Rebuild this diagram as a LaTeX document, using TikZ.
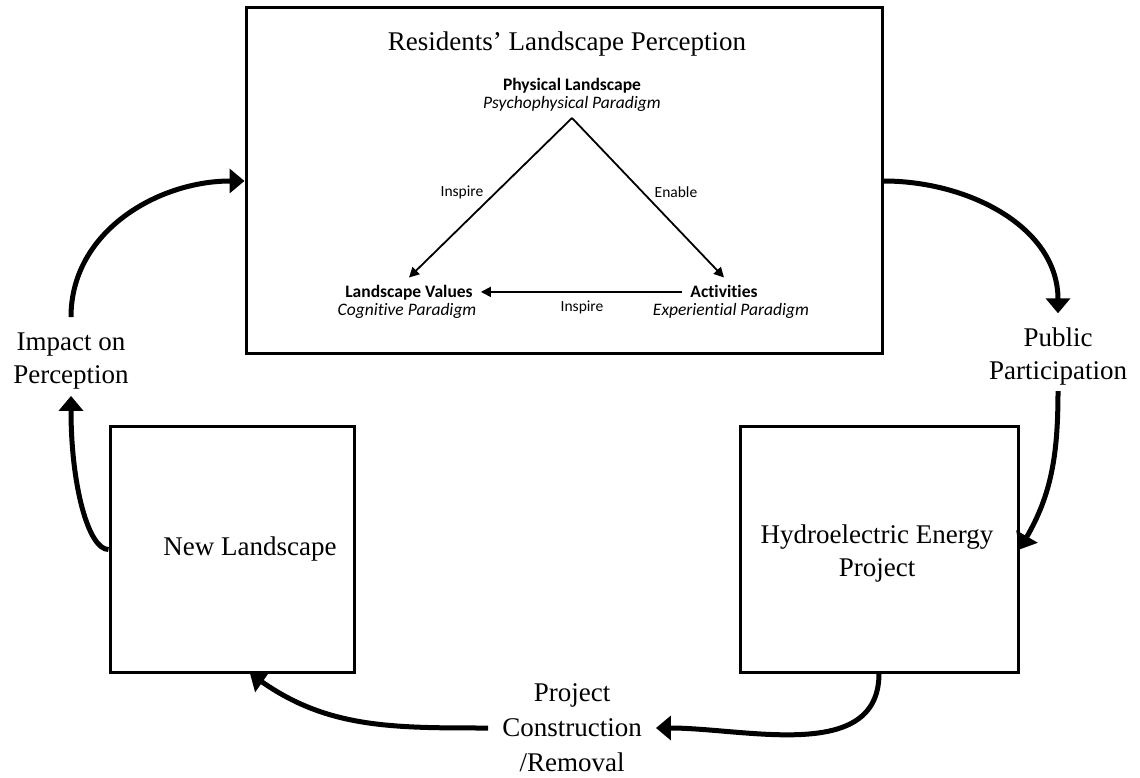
\documentclass[tikz,border=0pt]{standalone}
\usepackage{fontspec}
\setmainfont{Liberation Serif}
\newfontfamily\calibri[Ligatures=NoCommon]{Carlito}
\usetikzlibrary{arrows.meta}

\tikzset{
	bigbox/.style={draw,line width=3pt,inner sep=0,outer sep=1.5pt},
	bigtext/.style={font=\fontsize{27}{33}\selectfont,align=center,inner sep=6pt},
	smalltext/.style={font=\calibri\fontsize{17.5}{20}\selectfont,inner sep=8pt},
	labeltext/.style={font=\calibri\fontsize{15.5}{18}\selectfont,inner sep=0},
	bigarrow/.style={line width=5pt,-{Triangle[length=15pt,width=24pt]}},
	smallarrow/.style={line width=1.8pt,-{Triangle[length=10pt,width=10pt]}}
}

\begin{document}
\begin{tikzpicture}[x=1pt,y=1pt]
	\useasboundingbox (0,0) rectangle (1140,777);
	% boxes
	\node[bigbox,minimum width=636pt,minimum height=346pt] (perc) at (564,596) {};
	\node[bigbox,minimum width=244pt,minimum height=245pt] (newl) at (232,227.5) {};
	\node[bigbox,minimum width=278pt,minimum height=245pt] (hydro) at (879,227.5) {};
	\node[bigtext,anchor=base] (title) at (567,726) {Residents' Landscape Perception};
	\node[bigtext] (newltext) at (250,227.5) {New Landscape};
	\node[bigtext] (hydrotext) at (877,223) {Hydroelectric Energy\\Project};
	% triangle inside
	\coordinate (apex) at (572,659);
	\node[smalltext,anchor=base] (phys) at (572,686) {\bfseries Physical Landscape};
	\node[smalltext,anchor=base] (physp) at (572,668) {\itshape Psychophysical Paradigm};
	\node[smalltext,anchor=base] (values) at (409,479) {\bfseries Landscape Values};
	\node[smalltext,anchor=base] (valuesp) at (407,461) {\itshape Cognitive Paradigm};
	\node[smalltext,anchor=base] (activ) at (724,479) {\bfseries Activities};
	\node[smalltext,anchor=base] (activp) at (731,461) {\itshape Experiential Paradigm};
	\draw[smallarrow] (apex) -- (values.north);
	\draw[smallarrow] (apex) -- (activ.north);
	\draw[smallarrow] (activ.west) -- (activ.west -| values.east);
	\node[labeltext] (inspirea) at (462,585) {Inspire};
	\node[labeltext] (enable) at (676,585) {Enable};
	\node[labeltext] (inspireb) at (582,470) {Inspire};
	% cycle
	\node[bigtext] (impact) at (71,415.5) {Impact on\\Perception};
	\node[bigtext] (public) at (1058,420.75) {Public\\Participation};
	\node[bigtext,font=\fontsize{27}{35}\selectfont,inner xsep=14pt] (constr) at (572,49) {Project\\Construction\\/Removal};
	\draw[bigarrow] ([yshift=10pt]impact.north) to[out=90,in=180] (perc.west);
	\draw[bigarrow] (perc.east) to[out=0,in=90] ([yshift=8pt]public.north);
	\draw[bigarrow] (public.south) to[out=-90,in=60] (hydro.east);
	\draw[bigarrow] (hydro.south) to[out=-90,in=0] (constr.east);
	\draw[bigarrow] (constr.west) to[out=180,in=-35] ([xshift=18pt]newl.south);
	\draw[bigarrow] (newl.west) to[out=180,in=-90,out distance=20pt,in distance=90pt] (impact.south);
\end{tikzpicture}
\end{document}
